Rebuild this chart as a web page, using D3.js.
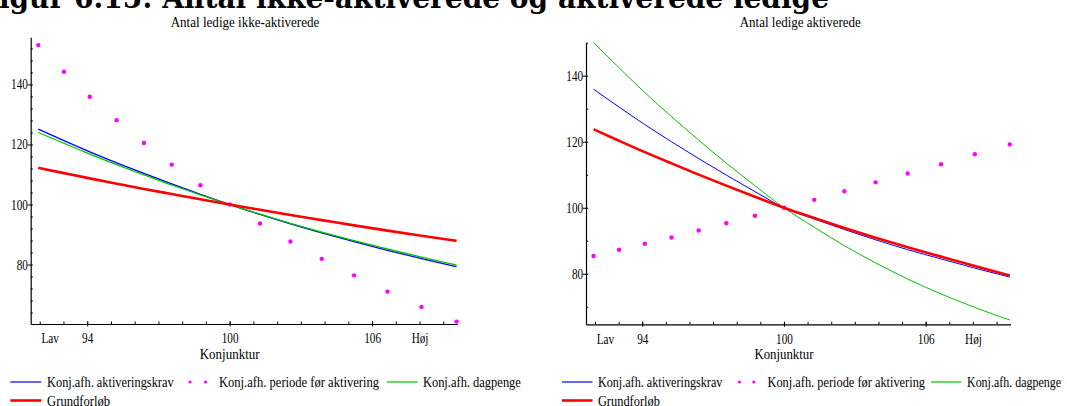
<!DOCTYPE html>
<html>
<head>
<meta charset="utf-8">
<script src="https://cdn.jsdelivr.net/npm/d3@7"></script>
<style>
  html, body { margin: 0; padding: 0; background: #ffffff; }
  svg { display: block; }
</style>
</head>
<body>
<svg id="chart" width="1067" height="406"></svg>
<script>
// ---------------- DATA ----------------
const headerText = "Figur 6.15: Antal ikke-aktiverede og aktiverede ledige";
const panelTitles = ["Antal ledige ikke-aktiverede", "Antal ledige aktiverede"];
const xAxisTitle = "Konjunktur";
const seriesNames = ["Konj.afh. aktiveringskrav", "Konj.afh. periode før aktivering", "Konj.afh. dagpenge", "Grundforløb"];

// Konjunktur (x) values of the 15 computed points
const konjunktur = [91.94, 93.02, 94.11, 95.24, 96.39, 97.56, 98.77, 100, 101.28, 102.56, 103.88, 105.24, 106.65, 108.08, 109.56];

// x axis
const xMajorTicks = [94, 100, 106];
const xMajorLabels = ["94", "100", "106"];
const xMinorTicks = [92, 93, 94, 95, 96, 97, 98, 99, 100, 101, 102, 103, 104, 105, 106, 107, 108, 109];
const xEndTicks = [92.42, 108];
const xEndLabels = ["Lav", "Høj"];

// y axes
const yMajorTicks = [80, 100, 120, 140];
const yMinorTicksLeft = [64, 68, 72, 76, 84, 88, 92, 96, 104, 108, 112, 116, 124, 128, 132, 136, 144, 148, 152];
const yMinorTicksRight = [70, 90, 110, 130, 150];

// Panel 1: Antal ledige ikke-aktiverede
const ikkeAktiveringskrav = [125.1, 121.3, 117.55, 113.9, 110.35, 106.85, 103.4, 100, 96.7, 93.55, 90.55, 87.6, 84.75, 82.0, 79.3];
const ikkePeriode        = [153.1, 144.2, 135.9, 128.1, 120.5, 113.3, 106.4, 100, 93.7, 87.7, 81.9, 76.4, 71.0, 65.9, 61.0];
const ikkeDagpenge       = [124.0, 120.4, 116.8, 113.3, 109.9, 106.5, 103.2, 100, 96.8, 93.75, 90.8, 87.95, 85.2, 82.5, 79.8];
const ikkeGrundforloeb   = [112.2, 110.45, 108.7, 106.95, 105.2, 103.5, 101.75, 100, 98.25, 96.5, 94.8, 93.05, 91.3, 89.6, 87.9];

// Panel 2: Antal ledige aktiverede
const aktAktiveringskrav = [135.9, 130.5, 125.2, 120.0, 114.9, 109.9, 104.9, 100, 96.6, 93.4, 90.3, 87.3, 84.5, 81.7, 79.0];
const aktPeriode         = [85.4, 87.3, 89.1, 91.0, 93.1, 95.3, 97.6, 100, 102.4, 105.0, 107.7, 110.4, 113.2, 116.2, 119.2];
const aktDagpenge        = [150.0, 142.4, 134.9, 127.6, 120.5, 113.5, 106.7, 100, 94.1, 88.5, 83.3, 78.4, 73.9, 69.8, 66.0];
const aktGrundforloeb    = [123.8, 120.3, 116.85, 113.45, 110.05, 106.7, 103.35, 100, 96.9, 93.9, 90.95, 88.05, 85.2, 82.35, 79.5];

// ---------------- STYLE / LAYOUT ----------------
const COLORS = { blue: "#0000ff", magenta: "#ff00ff", green: "#00c400", red: "#ff0000" };
const SERIF = "'Liberation Serif', 'Times New Roman', serif";
const X_DOMAIN = [91.62, 109.59];

const svg = d3.select("#chart");

// header (mostly cut off at top, as in the reference)
svg.append("text")
  .attr("x", -21).attr("y", 7.5)
  .attr("font-family", "'DejaVu Serif', serif")
  .attr("font-weight", 600)
  .attr("font-size", 30)
  .attr("textLength", 850)
  .attr("lengthAdjust", "spacingAndGlyphs")
  .attr("fill", "#000")
  .attr("stroke", "none")
  .text(headerText);

const panels = [
  {
    left: 30.7, right: 457.3, top: 37.3, bottom: 324,
    yDomain: [60.2, 155.7], yMinor: yMinorTicksLeft,
    title: panelTitles[0], titleW: 148.7, titleDx: 1,
    lineW: 1.3, axisTitleW: 60,
    series: [ikkeAktiveringskrav, ikkePeriode, ikkeDagpenge, ikkeGrundforloeb],
    legend: { lineX: 10.3, lineLen: 31, t1: 47.1, w1: 126.5, d1: 190, d2: 205.6, t2: 219, w2: 160,
              gx: 386.8, t3: 422.9, w3: 98, w4: 63 }
  },
  {
    left: 586, right: 1010.5, top: 42.7, bottom: 324.3,
    yDomain: [64.7, 150.0], yMinor: yMinorTicksRight,
    title: panelTitles[1], titleW: 121, titleDx: 2,
    lineW: 1.0, axisTitleW: 59,
    series: [aktAktiveringskrav, aktPeriode, aktDagpenge, aktGrundforloeb],
    legend: { lineX: 562, lineLen: 30.5, t1: 597.9, w1: 124.5, d1: 739.5, d2: 753.8, t2: 767.5, w2: 157.5,
              gx: 931, t3: 967, w3: 94, w4: 62 }
  }
];

function styleText(sel, size) {
  sel.attr("font-family", SERIF).attr("font-size", size).attr("fill", "#000");
}

panels.forEach(p => {
  const g = svg.append("g");
  const x = d3.scaleLinear().domain(X_DOMAIN).range([p.left, p.right]);
  const y = d3.scaleLinear().domain(p.yDomain).range([p.bottom, p.top]);

  // title
  g.append("text")
    .attr("x", (p.left + p.right) / 2 + p.titleDx).attr("y", 26.7)
    .attr("text-anchor", "middle")
    .attr("textLength", p.titleW).attr("lengthAdjust", "spacingAndGlyphs")
    .call(styleText, 14)
    .text(p.title);

  // ---- x axis ----
  const xMinor = g.append("g").attr("transform", `translate(0,${p.bottom})`)
    .call(d3.axisBottom(x).tickValues(xMinorTicks).tickSize(-2.5).tickSizeOuter(0).tickFormat(""));
  xMinor.select(".domain").attr("stroke", "#000").attr("stroke-width", 1.2);
  xMinor.selectAll(".tick line").attr("stroke", "#000").attr("stroke-width", 1);

  const xMajor = g.append("g").attr("transform", `translate(0,${p.bottom})`)
    .call(d3.axisBottom(x).tickValues(xMajorTicks).tickSize(2.5)
      .tickFormat((d, i) => xMajorLabels[i]));
  xMajor.select(".domain").remove();
  xMajor.selectAll(".tick line").attr("stroke", "#000").attr("y1", -2.5);
  xMajor.selectAll(".tick text").attr("y", 19.3).attr("dy", null)
    .attr("transform", "scale(0.8,1)")
    .call(styleText, 14);

  const xEnds = g.append("g").attr("transform", `translate(0,${p.bottom})`)
    .call(d3.axisBottom(x).tickValues(xEndTicks).tickSize(0)
      .tickFormat((d, i) => xEndLabels[i]));
  xEnds.select(".domain").remove();
  xEnds.selectAll(".tick line").remove();
  xEnds.selectAll(".tick text").attr("y", 19.3).attr("dy", null)
    .attr("transform", "scale(0.8,1)")
    .call(styleText, 14);

  // x axis title
  g.append("text")
    .attr("x", x(100)).attr("y", 358.5)
    .attr("text-anchor", "middle")
    .attr("textLength", p.axisTitleW).attr("lengthAdjust", "spacingAndGlyphs")
    .call(styleText, 14)
    .text(xAxisTitle);

  // ---- y axis ----
  const yMinor = g.append("g").attr("transform", `translate(${p.left},0)`)
    .call(d3.axisLeft(y).tickValues(p.yMinor).tickSize(-2.2).tickSizeOuter(0).tickFormat(""));
  yMinor.select(".domain").attr("stroke", "#000").attr("stroke-width", 1.2);
  yMinor.selectAll(".tick line").attr("stroke", "#000");

  const yMajor = g.append("g").attr("transform", `translate(${p.left},0)`)
    .call(d3.axisLeft(y).tickValues(yMajorTicks).tickSize(3).tickPadding(0.5).tickFormat(d3.format("d")));
  yMajor.select(".domain").remove();
  yMajor.selectAll(".tick line").attr("stroke", "#000").attr("x2", -3).attr("x1", 2.2);
  yMajor.selectAll(".tick text")
    .attr("x", -3.6)
    .attr("transform", "scale(0.8,1)")
    .call(styleText, 14);

  // ---- series ----
  const line = d3.line()
    .x((d, i) => x(konjunktur[i]))
    .y(d => y(d))
    .curve(d3.curveMonotoneX);

  const [sBlue, sDots, sGreen, sRed] = p.series;

  g.append("path").datum(sBlue).attr("d", line)
    .attr("fill", "none").attr("stroke", COLORS.blue).attr("stroke-width", p.lineW);

  g.selectAll("circle.dot").data(sDots).join("circle")
    .attr("class", "dot")
    .attr("cx", (d, i) => x(konjunktur[i]))
    .attr("cy", d => y(d))
    .attr("r", 2.2)
    .attr("fill", COLORS.magenta);

  g.append("path").datum(sGreen).attr("d", line)
    .attr("fill", "none").attr("stroke", COLORS.green).attr("stroke-width", p.lineW);

  g.append("path").datum(sRed).attr("d", line)
    .attr("fill", "none").attr("stroke", COLORS.red).attr("stroke-width", 2.6);

  // ---- legend ----
  const L = p.legend;
  const row1 = 382, row2 = 400.5, base1 = 387.3, base2 = 405.5;
  const leg = g.append("g");
  leg.append("line").attr("x1", L.lineX).attr("x2", L.lineX + L.lineLen)
    .attr("y1", row1).attr("y2", row1).attr("stroke", COLORS.blue).attr("stroke-width", 1.2);
  leg.append("text").attr("x", L.t1).attr("y", base1)
    .attr("textLength", L.w1).attr("lengthAdjust", "spacingAndGlyphs")
    .call(styleText, 14).text(seriesNames[0]);
  [L.d1, L.d2].forEach(dx => {
    leg.append("circle").attr("cx", dx).attr("cy", row1).attr("r", 1.6).attr("fill", COLORS.magenta);
  });
  leg.append("text").attr("x", L.t2).attr("y", base1)
    .attr("textLength", L.w2).attr("lengthAdjust", "spacingAndGlyphs")
    .call(styleText, 14).text(seriesNames[1]);
  leg.append("line").attr("x1", L.gx).attr("x2", L.gx + L.lineLen)
    .attr("y1", row1).attr("y2", row1).attr("stroke", COLORS.green).attr("stroke-width", 1.2);
  leg.append("text").attr("x", L.t3).attr("y", base1)
    .attr("textLength", L.w3).attr("lengthAdjust", "spacingAndGlyphs")
    .call(styleText, 14).text(seriesNames[2]);
  leg.append("line").attr("x1", L.lineX).attr("x2", L.lineX + L.lineLen)
    .attr("y1", row2).attr("y2", row2).attr("stroke", COLORS.red).attr("stroke-width", 2.6);
  leg.append("text").attr("x", L.t1).attr("y", base2)
    .attr("textLength", L.w4).attr("lengthAdjust", "spacingAndGlyphs")
    .call(styleText, 14).text(seriesNames[3]);
});
</script>
</body>
</html>
